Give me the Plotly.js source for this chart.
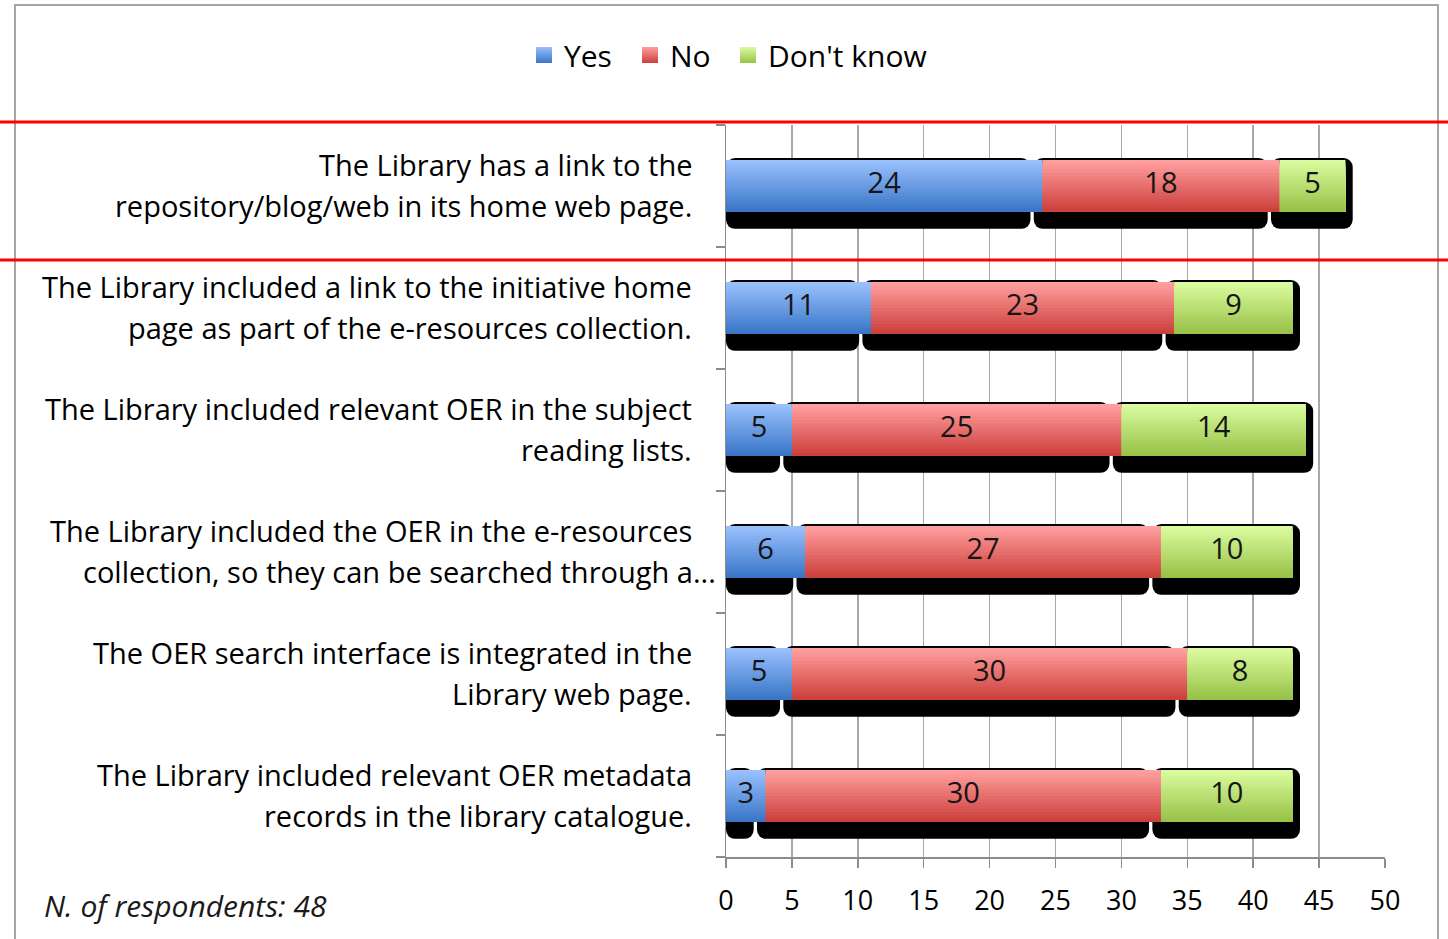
<!DOCTYPE html>
<html>
<head>
<meta charset="utf-8">
<script src="https://cdn.plot.ly/plotly-3.0.1.min.js"></script>
<style>
  html, body { margin: 0; padding: 0; background: #ffffff; }
  #chart { width: 1448px; height: 939px; }
</style>
</head>
<body>
<div id="chart"></div>
<script>
// ---------------- DATA ----------------
const labelLines = [
  ["The Library has a link to the", "repository/blog/web in its home web page."],
  ["The Library included a link to the initiative home", "page as part of the e-resources collection."],
  ["The Library included relevant OER in the subject", "reading lists."],
  ["The Library included the OER in the e-resources", "collection, so they can be searched through a..."],
  ["The OER search interface is integrated in the", "Library web page."],
  ["The Library included relevant OER metadata", "records in the library catalogue."]
];
const seriesNames = ["Yes", "No", "Don't know"];
const yesValues = [24, 11, 5, 6, 5, 3];
const noValues = [18, 23, 25, 27, 30, 30];
const dontKnowValues = [5, 9, 14, 10, 8, 10];
const xTickValues = [0, 5, 10, 15, 20, 25, 30, 35, 40, 45, 50];
const footnote = "N. of respondents: 48";

// ---------------- STYLE ----------------
const FONT = "'Open Sans', Lato, 'DejaVu Sans', sans-serif";
const FS_LABEL = 29;
const FS_LEGEND = 30;
const FS_TICK = 27;
const FS_VALUE = 29;
const seriesColors = [
  { top: [152, 192, 252], bottom: [58, 118, 200] },   // Yes
  { top: [255, 158, 158], bottom: [204, 64, 60] },    // No
  { top: [218, 251, 158], bottom: [152, 194, 72] }    // Don't know
];
const legendLeftPx = [524, 630, 728];   // left edge of each legend box
const W = 1448, H = 939;
const M = { l: 726, r: 63, t: 125, b: 82 };
const PW = W - M.l - M.r, PH = H - M.t - M.b;
const px2x = px => (px - M.l) / PW;
const px2y = py => (H - M.b - py) / PH;

const series = [yesValues, noValues, dontKnowValues];
const nCat = labelLines.length;
const cats = labelLines.map((_, i) => i);

function rgb(c) { return "rgb(" + c.map(v => Math.round(v)).join(",") + ")"; }
function mix(a, b, t) { return a.map((v, i) => v + (b[i] - v) * t); }

// segment geometry from the data
const segX = [], segBase = [], segY = [], segSeries = [], segLast = [];
for (let i = 0; i < nCat; i++) {
  let acc = 0;
  for (let s = 0; s < series.length; s++) {
    segX.push(series[s][i]);
    segBase.push(acc);
    segY.push(i);
    segSeries.push(s);
    segLast.push(s === series.length - 1);
    acc += series[s][i];
  }
}

const barW = 0.426;
const traces = [];

// shadow
const shStart = segBase.map((b) => b === 0 ? 0 : b - 0.65);
const shEnd = segBase.map((b, k) => segLast[k] ? b + segX[k] + 0.55 : b + segX[k] - 0.9);
traces.push({
  type: "bar", orientation: "h",
  y: segY, base: shStart, x: shEnd.map((e, k) => e - shStart[k]),
  offset: -barW / 2 - 0.016, width: 0.58,
  marker: { color: "#000000", cornerradius: 9, line: { width: 0 } },
  hoverinfo: "skip", showlegend: false
});

// gradient bands (each band runs to the bar bottom, so they overlap without seams)
const NB = 16;
const bw = barW / NB;
for (let k = 0; k < NB; k++) {
  const t = k / (NB - 1);
  traces.push({
    type: "bar", orientation: "h",
    y: segY, base: segBase, x: segX,
    offset: -barW / 2 + k * bw, width: barW - k * bw,
    marker: { color: segSeries.map(s => rgb(mix(seriesColors[s].top, seriesColors[s].bottom, t))), line: { width: 0 } },
    hoverinfo: "skip", showlegend: false
  });
}

// value labels
traces.push({
  type: "scatter", mode: "text",
  x: segBase.map((b, k) => b + segX[k] / 2), y: segY,
  text: segX.map(String),
  textfont: { family: FONT, size: FS_VALUE, color: "#151515" },
  textposition: "middle center",
  hoverinfo: "skip", showlegend: false, cliponaxis: false
});

// legend entries (one small legend per series)
const legendIds = ["legend", "legend2", "legend3"];
seriesNames.forEach((name, s) => {
  traces.push({
    type: "scatter", mode: "markers", name: name,
    x: [null], y: [null],
    marker: { symbol: "square", size: 22, color: rgb(seriesColors[s].top),
      gradient: { type: "vertical", color: rgb(seriesColors[s].bottom) }, line: { width: 0 } },
    showlegend: true, legend: legendIds[s]
  });
});

// category label annotations
const annotations = [];
labelLines.forEach((lines, i) => {
  lines.forEach((ln, j) => {
    const overflow = ln.endsWith("...");
    annotations.push({
      xref: "paper", yref: "y", x: px2x(694), y: i,
      xanchor: "right", yanchor: "middle",
      yshift: j === 0 ? 22 : -19,
      xshift: overflow ? 24 : 0,
      text: ln, showarrow: false,
      font: { family: FONT, size: FS_LABEL, color: "#000" }
    });
  });
});
annotations.push({
  xref: "paper", yref: "paper", x: px2x(42), y: px2y(906),
  xanchor: "left", yanchor: "middle",
  text: "<i>" + footnote + "</i>", showarrow: false,
  font: { family: FONT, size: FS_LEGEND, color: "#1a1a1a" }
});

const shapes = [
  { type: "rect", xref: "paper", yref: "paper",
    x0: px2x(15), x1: px2x(1438), y0: px2y(960), y1: px2y(5),
    line: { color: "#A6A6A6", width: 2 }, fillcolor: "rgba(0,0,0,0)", layer: "below" },
  { type: "line", xref: "paper", yref: "paper",
    x0: px2x(0), x1: px2x(1448), y0: px2y(122), y1: px2y(122),
    line: { color: "#FF0000", width: 3 } },
  { type: "line", xref: "paper", yref: "paper",
    x0: px2x(0), x1: px2x(1448), y0: px2y(260), y1: px2y(260),
    line: { color: "#FF0000", width: 3 } }
];

const layout = {
  width: W, height: H,
  margin: M,
  paper_bgcolor: "#ffffff", plot_bgcolor: "#ffffff",
  barmode: "overlay",
  font: { family: FONT, size: FS_LABEL, color: "#000" },
  xaxis: {
    range: [0, 50], tickmode: "array", tickvals: xTickValues,
    showgrid: true, gridcolor: "#A8A8A8", gridwidth: 1.5,
    showline: true, linecolor: "#8C8C8C", linewidth: 1.5,
    ticks: "outside", ticklen: 9, tickcolor: "#8C8C8C", tickwidth: 1.5,
    tickfont: { family: FONT, size: FS_TICK, color: "#000" },
    ticklabelstandoff: 10,
    zeroline: false, fixedrange: true
  },
  yaxis: {
    range: [nCat - 0.5, -0.5],
    tickmode: "array", tickvals: cats.concat([nCat]).map(v => v - 0.5),
    showticklabels: false,
    ticks: "outside", ticklen: 9, tickcolor: "#8C8C8C", tickwidth: 1.5,
    showline: true, linecolor: "#8C8C8C", linewidth: 1.5,
    showgrid: false, zeroline: false, fixedrange: true
  },
  showlegend: true,
  annotations: annotations,
  shapes: shapes
};
legendIds.forEach((id, s) => {
  layout[id] = {
    orientation: "h", xref: "container", yref: "container",
    x: legendLeftPx[s] / W, xanchor: "left", y: 1 - 55 / H, yanchor: "middle",
    font: { family: FONT, size: FS_LEGEND, color: "#000" },
    itemwidth: 30, bgcolor: "rgba(0,0,0,0)", borderwidth: 0
  };
});

Plotly.newPlot("chart", traces, layout, { displayModeBar: false, staticPlot: true });
</script>
</body>
</html>
